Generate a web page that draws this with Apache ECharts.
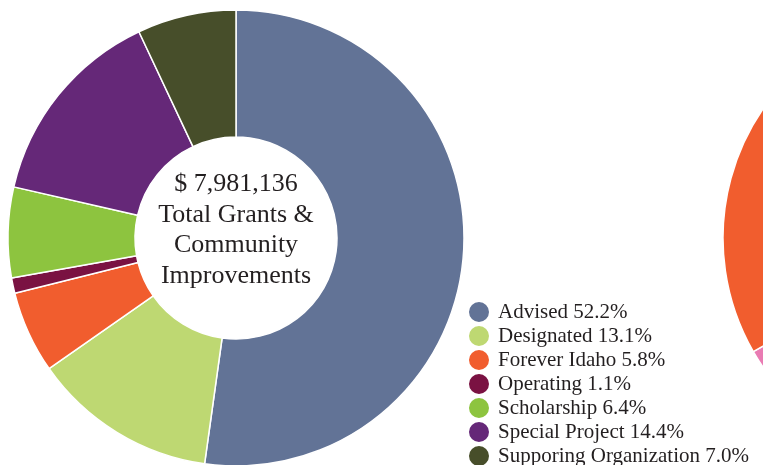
<!DOCTYPE html>
<html>
<head>
<meta charset="utf-8">
<script src="https://cdn.jsdelivr.net/npm/echarts@6/dist/echarts.min.js"></script>
<style>
html,body{margin:0;padding:0;background:#fff;}
#main{width:763px;height:465px;}
</style>
</head>
<body>
<div id="main"></div>
<script>
var categories = ['Advised', 'Designated', 'Forever Idaho', 'Operating', 'Scholarship', 'Special Project', 'Supporing Organization'];
var percents = [52.2, 13.1, 5.8, 1.1, 6.4, 14.4, 7.0];
var colors = ['#627396', '#bed872', '#f15d2e', '#7a1242', '#8dc43f', '#652878', '#474e2a'];
var totalLabel = '$ 7,981,136';
var centerLines = ['Total Grants &', 'Community', 'Improvements'];

// second (mostly off-screen) donut
var otherNames = ['Other A', 'Other B', 'Other C'];
var otherValues = [61.7, 5.0, 33.3];
var otherColors = ['#bed872', '#e97bb3', '#f15d2e'];

var chart = echarts.init(document.getElementById('main'));
var serif = '"Liberation Serif", serif';

var mainData = categories.map(function (c, i) {
  return { name: c, value: percents[i], itemStyle: { color: colors[i] } };
});
var otherData = otherNames.map(function (c, i) {
  return { name: c, value: otherValues[i], itemStyle: { color: otherColors[i] } };
});

chart.setOption({
  animation: false,
  legend: {
    data: categories.map(function (c) { return { name: c, icon: 'circle' }; }),
    orient: 'vertical',
    left: 467,
    top: 300,
    height: 300,
    padding: 0,
    itemWidth: 22,
    itemHeight: 22,
    itemGap: 0,
    selectedMode: false,
    formatter: function (name) {
      var i = categories.indexOf(name);
      return name + ' ' + percents[i].toFixed(1) + '%';
    },
    textStyle: { fontFamily: serif, fontSize: 21, color: '#231f20', lineHeight: 20, padding: [0, 0, 0, 3] }
  },
  graphic: [{
    type: 'text',
    x: 236,
    y: 230,
    style: {
      text: [totalLabel].concat(centerLines).join('\n'),
      align: 'center',
      verticalAlign: 'middle',
      font: '26px "Liberation Serif", serif',
      lineHeight: 30.5,
      fill: '#231f20'
    },
    z: 100
  }],
  series: [{
    type: 'pie',
    center: [236, 238],
    radius: [101, 228],
    startAngle: 90,
    clockwise: true,
    label: { show: false },
    labelLine: { show: false },
    emphasis: { disabled: true },
    itemStyle: { borderColor: '#fff', borderWidth: 1.5 },
    data: mainData
  }, {
    type: 'pie',
    center: [951, 238],
    radius: [101, 228],
    startAngle: 90,
    clockwise: true,
    label: { show: false },
    labelLine: { show: false },
    emphasis: { disabled: true },
    itemStyle: { borderColor: '#fff', borderWidth: 1.5 },
    data: otherData
  }]
});
</script>
</body>
</html>
